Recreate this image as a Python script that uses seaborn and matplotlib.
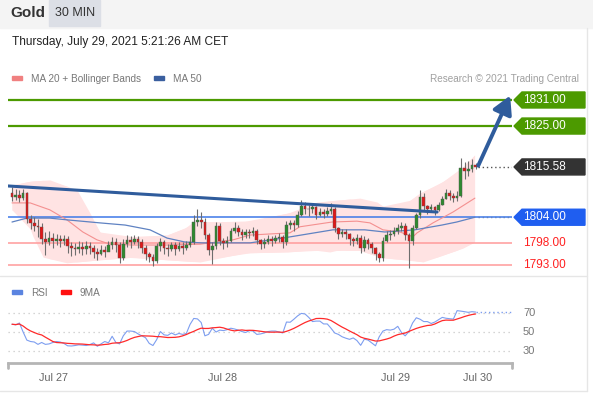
import numpy as np
import pandas as pd
import matplotlib
matplotlib.use("Agg")
import matplotlib.pyplot as plt
import seaborn as sns
from matplotlib.patches import Polygon, Rectangle
from matplotlib.lines import Line2D

# 30 min candles, Gold, Jul 27 - Jul 29 2021
closes = [
    1808.6, 1809.2, 1808.4, 1809.6, 1803.5, 1802.6, 1802.0, 1801.8, 1799.0, 1798.4,
    1799.2, 1798.6, 1799.0, 1798.5, 1798.9, 1797.3, 1797.0, 1796.6, 1797.2, 1796.8,
    1797.4, 1796.9, 1796.0, 1795.6, 1796.4, 1796.0, 1797.5, 1798.2, 1797.6, 1794.5,
    1797.9, 1798.7, 1798.3, 1798.9, 1798.4, 1796.9, 1795.6, 1794.8, 1794.0, 1797.4,
    1798.3, 1797.0, 1796.6, 1797.5, 1796.8, 1797.4, 1797.0, 1797.6, 1798.4, 1803.0,
    1803.4, 1803.0, 1799.8, 1796.5, 1797.4, 1802.0, 1798.6, 1798.0, 1798.6, 1800.9,
    1801.6, 1800.7, 1800.0, 1800.6, 1800.4, 1800.8, 1798.7, 1797.9, 1798.3, 1799.0,
    1798.6, 1799.2, 1799.5, 1798.4, 1802.3, 1802.6, 1802.2, 1804.6, 1806.6, 1806.0,
    1805.8, 1806.3, 1804.6, 1805.3, 1804.8, 1805.5, 1805.9, 1801.5, 1800.2, 1800.6,
    1800.2, 1798.9, 1798.5, 1799.3, 1797.0, 1798.8, 1797.8, 1797.0, 1795.5, 1794.5,
    1798.5, 1799.8, 1800.2, 1800.8, 1801.5, 1802.0, 1799.9, 1798.6, 1801.6, 1804.5,
    1808.6, 1806.5, 1805.9, 1806.3, 1805.7, 1806.8, 1808.3, 1809.6, 1808.9, 1808.4,
    1809.0, 1815.3, 1814.6, 1815.2, 1816.0, 1815.58]
first_open = 1809.6

highs = [
    1811.0, 1810.6, 1810.2, 1810.4, 1809.8, 1804.5, 1804.0, 1803.5, 1802.6, 1800.5,
    1800.8, 1800.4, 1800.2, 1800.0, 1799.8, 1799.6, 1798.2, 1798.0, 1798.6, 1798.2,
    1798.6, 1798.4, 1797.6, 1797.0, 1797.6, 1797.4, 1798.6, 1799.4, 1799.2, 1798.4,
    1799.0, 1799.8, 1799.6, 1799.8, 1799.6, 1799.0, 1797.6, 1796.0, 1795.6, 1798.0,
    1799.2, 1798.8, 1797.8, 1798.4, 1798.2, 1798.4, 1798.2, 1798.6, 1799.6, 1804.6,
    1805.8, 1805.2, 1803.8, 1800.4, 1798.4, 1803.0, 1802.6, 1799.2, 1799.6, 1801.6,
    1802.8, 1802.2, 1801.2, 1801.4, 1801.4, 1801.8, 1801.2, 1799.0, 1799.2, 1799.8,
    1799.6, 1800.0, 1800.4, 1799.8, 1803.2, 1803.4, 1803.4, 1805.4, 1808.0, 1807.4,
    1806.8, 1807.2, 1806.6, 1806.2, 1806.0, 1806.4, 1807.2, 1806.4, 1801.8, 1801.4,
    1801.2, 1800.4, 1799.4, 1800.2, 1799.8, 1799.6, 1799.2, 1798.2, 1797.2, 1796.0,
    1799.4, 1800.8, 1801.0, 1801.8, 1802.4, 1803.0, 1802.6, 1800.4, 1802.2, 1805.0,
    1810.2, 1809.6, 1806.8, 1807.0, 1806.6, 1807.4, 1809.0, 1810.4, 1810.2, 1809.6,
    1810.0, 1817.6, 1816.8, 1817.0, 1817.4, 1816.6]

lows = [
    1807.8, 1808.0, 1807.4, 1808.0, 1802.6, 1801.2, 1800.8, 1799.4, 1797.8, 1795.2,
    1797.6, 1797.0, 1797.6, 1797.2, 1797.6, 1795.8, 1795.0, 1795.4, 1795.8, 1795.4,
    1795.6, 1795.6, 1794.6, 1794.2, 1795.2, 1794.8, 1796.2, 1796.8, 1796.0, 1793.4,
    1794.2, 1797.2, 1797.0, 1797.8, 1797.0, 1795.8, 1794.2, 1793.6, 1792.8, 1793.4,
    1796.2, 1795.6, 1795.0, 1796.2, 1795.4, 1796.2, 1795.6, 1796.4, 1797.2, 1797.8,
    1802.0, 1801.6, 1799.0, 1795.4, 1793.2, 1796.6, 1797.6, 1796.6, 1797.2, 1798.2,
    1800.4, 1799.6, 1798.8, 1799.2, 1799.2, 1799.6, 1797.8, 1796.8, 1797.0, 1797.8,
    1797.4, 1798.0, 1798.4, 1797.0, 1797.6, 1801.4, 1800.8, 1801.8, 1804.2, 1804.8,
    1804.4, 1805.0, 1803.6, 1804.2, 1803.8, 1804.4, 1804.8, 1800.6, 1799.0, 1799.4,
    1799.0, 1797.6, 1797.4, 1797.8, 1795.8, 1796.2, 1796.8, 1795.8, 1794.2, 1793.6,
    1794.0, 1798.2, 1798.8, 1799.6, 1800.2, 1800.8, 1798.8, 1792.3, 1797.6, 1801.2,
    1803.8, 1805.6, 1804.8, 1805.2, 1804.6, 1805.4, 1806.8, 1808.2, 1808.0, 1807.4,
    1807.8, 1808.6, 1812.8, 1813.4, 1814.4, 1815.0]

# indicators (candle index, value)
ma20_idx = [0, 4.9, 10.2, 14.8, 19.1, 22.9, 26.4, 32.6, 41.8, 50.7, 59.6, 64.2,
            74.9, 77.6, 86.3, 93, 96.5, 100, 104.6, 108.1, 109.2, 113.5, 118.9, 124.8]
ma20_val = [1807.3, 1807.3, 1805.7, 1803.4, 1800.6, 1798.8, 1797.8, 1797.6, 1797.6,
            1797.8, 1798.8, 1799.9, 1800.4, 1801.8, 1802.9, 1803.1, 1802.7, 1801.1,
            1800.6, 1799.5, 1800.4, 1802.7, 1805.2, 1808.4]

upper_idx = [0, 4.9, 10.2, 17.5, 21, 23.7, 26.4, 31.8, 41.8, 46.6, 48.8, 64.2, 75.7,
             82.2, 93.8, 98.4, 102.7, 110, 114.6, 119.9, 124.7]
upper_val = [1811.4, 1812.3, 1812.6, 1810.3, 1805.0, 1800.6, 1799.5, 1799.5, 1799.9,
             1801.5, 1802.9, 1803.1, 1805.2, 1807.5, 1808.4, 1807.5, 1805.0, 1809.6,
             1811.4, 1814.2, 1818.3]
lower_idx = [0, 3.5, 5.7, 8.4, 14.8, 23.7, 32.6, 41.8, 50.7, 62.8, 74.4, 80.9, 85.7,
             91.1, 100, 107.3, 110.8, 116.2, 121.6, 124.7]
lower_val = [1805.7, 1804.5, 1799.5, 1794.8, 1793.5, 1794.2, 1794.8, 1794.2, 1793.7,
             1795.8, 1796.0, 1796.5, 1796.0, 1797.1, 1794.6, 1794.2, 1793.7, 1795.3,
             1796.9, 1798.3]

ma50_idx = [0, 4, 10.2, 14.8, 23.7, 30.5, 37.2, 41.8, 46.6, 51.2, 64.2, 73, 86.5,
            95.1, 100.5, 108.6, 115.9, 119.9, 124.8]
ma50_val = [1802.9, 1803.8, 1803.8, 1803.4, 1802.7, 1802.2, 1801.1, 1799.2, 1798.3,
            1798.1, 1798.1, 1799.2, 1801.1, 1801.1, 1800.6, 1801.1, 1802.2, 1802.9, 1804.0]

trend_idx = [-1.08, 114.6]
trend_val = [1811.2, 1805.2]

rsi = [
    58.2, 57.5, 59.5, 50, 41.5, 40, 39.5, 37, 39, 37,
    37.5, 39, 40, 39.5, 38, 35.5, 35.3, 35.8, 36.5, 36.2,
    35.8, 36.8, 38.6, 35, 37.5, 40, 38.6, 45.5, 39, 37.5,
    46, 51, 51, 50.5, 48, 46, 44, 38, 35.8, 42,
    50.5, 47, 46.5, 49, 47, 48.5, 47.5, 48.5, 58, 64.3,
    63.8, 60, 46, 47.5, 54, 50, 52, 51.5, 52.5, 54,
    53.2, 52, 50.5, 49.5, 51.5, 51, 47.5, 48, 49, 50.5,
    51, 51, 50, 49, 60.5, 60.3, 63.5, 67, 69.6, 69,
    65.4, 61, 61.5, 61.5, 58.5, 58.5, 54, 49, 47.5, 45,
    43.5, 42.3, 43.8, 41, 36, 42.5, 41.5, 38.5, 35.5, 45,
    51, 52.5, 52, 53, 56, 49.5, 46, 50.5, 59.5, 65,
    63.5, 61, 61, 59, 60.5, 63, 65.4, 64.5, 64, 63.6,
    72.5, 72, 71.4, 70.7, 71.4, 71]

# key levels
resistances = [1831.00, 1825.00]
last_price = 1815.58
pivot = 1804.00
supports = [1798.00, 1793.00]
target = 1831.00

date_labels = ["Jul 27", "Jul 28", "Jul 29", "Jul 30"]
date_pos = [11.3, 56.9, 103.5, 125.6]

df = pd.DataFrame({"close": closes, "high": highs, "low": lows})
df["open"] = [first_open] + closes[:-1]
df["idx"] = np.arange(len(df))
df["up"] = df["close"] >= df["open"]
df["rsi"] = rsi
df["rsi9"] = df["rsi"].rolling(9, min_periods=1).mean()

sns.set_theme(style="white")
plt.rcParams["font.family"] = ["Liberation Sans", "DejaVu Sans"]

W, H = 593, 398
fig = plt.figure(figsize=(W / 100, H / 100), dpi=100)


def fx(px):
    return px / W


def fy(py):
    return 1 - py / H


# header band
fig.add_artist(Rectangle((0, fy(28)), 1, 28 / H, transform=fig.transFigure,
                         color="#f4f4f4", zorder=0))
fig.add_artist(Rectangle((fx(49), fy(26)), 51 / W, 26 / H, transform=fig.transFigure,
                         color="#dcdfe6", zorder=1))
fig.text(fx(10), fy(13), "Gold", fontsize=11, fontweight="bold", color="#333333", va="center")
fig.text(fx(55), fy(13), "30 MIN", fontsize=9, color="#333333", va="center")
fig.text(fx(12), fy(42), "Thursday, July 29, 2021 5:21:26 AM CET", fontsize=8.6,
         color="#222222", va="center")

# borders
for seg in [((fx(587), fx(587)), (fy(28), fy(391))),
            ((0, fx(587)), (fy(276), fy(276))),
            ((0, fx(587)), (fy(390.5), fy(390.5)))]:
    fig.add_artist(Line2D(seg[0], seg[1], transform=fig.transFigure, color="#e6e6e6", lw=1))

# legends
fig.add_artist(Rectangle((fx(12), fy(80)), 10 / W, 4 / H, transform=fig.transFigure, color="#f08080"))
fig.text(fx(31), fy(78.5), "MA 20 + Bollinger Bands", fontsize=7.2, color="#777777", va="center")
fig.add_artist(Rectangle((fx(154), fy(80)), 10 / W, 4 / H, transform=fig.transFigure, color="#3a5f9f"))
fig.text(fx(173), fy(78.5), "MA 50", fontsize=7.2, color="#777777", va="center")
fig.text(fx(579), fy(78.5), "Research © 2021 Trading Central", fontsize=7.2, color="#a0a0a0",
         va="center", ha="right")
fig.add_artist(Rectangle((fx(12), fy(294)), 10 / W, 4 / H, transform=fig.transFigure, color="#5b84e0"))
fig.text(fx(31), fy(292.5), "RSI", fontsize=7.2, color="#777777", va="center")
fig.add_artist(Rectangle((fx(61), fy(294)), 10 / W, 4 / H, transform=fig.transFigure, color="#ff1010"))
fig.text(fx(80), fy(292.5), "9MA", fontsize=7.2, color="#777777", va="center")

# price panel
ax = fig.add_axes([fx(8), fy(272), 504 / W, 184 / H])
ax.set_xlim(-1.08, 134.8)
ax.set_ylim(1791.39, 1833.76)
ax.axis("off")

ax.fill_between(upper_idx, upper_val, np.interp(upper_idx, lower_idx, lower_val),
                color="#ffe3e3", lw=0, zorder=1)
ax.fill_between(lower_idx, np.interp(lower_idx, upper_idx, upper_val), lower_val,
                color="#ffe3e3", lw=0, zorder=1)

for lv in resistances:
    ax.axhline(lv, color="#4c9a00", lw=1.6, zorder=2)
ax.axhline(pivot, color="#3d78e8", lw=1.1, zorder=2)
for lv in supports:
    ax.axhline(lv, color="#ff9a9a", lw=1.1, zorder=2)

sns.lineplot(x=ma20_idx, y=ma20_val, ax=ax, color="#f49090", lw=0.8, zorder=3)
sns.lineplot(x=ma50_idx, y=ma50_val, ax=ax, color="#5f82c2", lw=0.9, zorder=3)
sns.lineplot(x=trend_idx, y=trend_val, ax=ax, color="#2f5c9c", lw=2.2, zorder=6)

# candles
ax.vlines(df["idx"], df["low"], df["high"], color="#6e6e6e", lw=0.8, zorder=4)
body_bottom = np.minimum(df["open"], df["close"])
body_h = np.maximum(np.abs(df["close"] - df["open"]), 0.2)
cols = np.where(df["up"], "#2f8a2f", "#e01818")
ax.bar(df["idx"], body_h, bottom=body_bottom, width=0.72, color=cols,
       edgecolor="#555555", linewidth=0.3, zorder=5)

n = len(df)
ax.hlines(last_price, n - 0.5, 134.8, color="#555555", lw=1, linestyles=(0, (1, 2)), zorder=3)
ax.hlines(ma50_val[-1], n - 0.5, 134.8, color="#5f82c2", lw=1, linestyles=(0, (1, 2)), zorder=3)
ax.annotate("", xy=(134.3, target + 1.0), xytext=(n - 0.3, last_price + 0.3),
            arrowprops=dict(arrowstyle="-|>,head_length=0.9,head_width=0.5",
                            color="#2f5c9c", lw=2.8, shrinkA=0, shrinkB=0), zorder=7)

# level tags
tr = ax.get_yaxis_transform()
hh = 8 / 4.342
tags = [(resistances[0], "#4c9a00"), (resistances[1], "#4c9a00"),
        (last_price, "#333333"), (pivot, "#1f5ef0")]
for lv, c in tags:
    pts = [(1.004, lv), (1.0198, lv + hh), (1.1448, lv + hh), (1.1448, lv - hh), (1.0198, lv - hh)]
    ax.add_patch(Polygon(pts, closed=True, transform=tr, color=c, clip_on=False, zorder=8))
    ax.text(1.0225, lv, f"{lv:.2f}", transform=tr, color="white", fontsize=8.5,
            va="center", ha="left", clip_on=False, zorder=9)
for lv in supports:
    ax.text(1.0218, lv, f"{lv:.2f}", transform=tr, color="#ff2020", fontsize=8.5,
            va="center", ha="left", clip_on=False)

# RSI panel
ax2 = fig.add_axes([fx(8), fy(363), 504 / W, 63 / H])
ax2.set_xlim(-1.08, 134.8)
ax2.set_ylim(17.4, 83.7)
for s in ["top", "left", "right"]:
    ax2.spines[s].set_visible(False)
ax2.spines["bottom"].set_color("#b5b5b5")
ax2.spines["bottom"].set_linewidth(2)
for lv in [30, 50, 70]:
    ax2.axhline(lv, color="#c8c8c8", lw=0.9, linestyle=(0, (1, 3)))
sns.lineplot(data=df, x="idx", y="rsi", ax=ax2, color="#7d9ef0", lw=0.8)
sns.lineplot(data=df, x="idx", y="rsi9", ax=ax2, color="#ff2a2a", lw=0.9)
ax2.hlines(rsi[-1], n - 1, 134.8, color="#7d9ef0", lw=1, linestyles=(0, (1, 2)))
ax2.set_xlabel("")
ax2.set_ylabel("")
ax2.set_yticks([])
ax2.set_xticks(date_pos)
ax2.set_xticklabels(date_labels, fontsize=7.8, color="#666666")
ax2.tick_params(axis="x", length=0, pad=7)
tr2 = ax2.get_yaxis_transform()
for lv in [70, 50, 30]:
    ax2.text(1.0218, lv, str(lv), transform=tr2, fontsize=8, color="#777777",
             va="center", ha="left", clip_on=False)
for xa in [0, 1]:
    ax2.add_artist(Line2D([xa, xa], [0, -0.08], transform=ax2.transAxes, color="#b5b5b5",
                          lw=2, clip_on=False))

fig.savefig("out.png", dpi=100)
